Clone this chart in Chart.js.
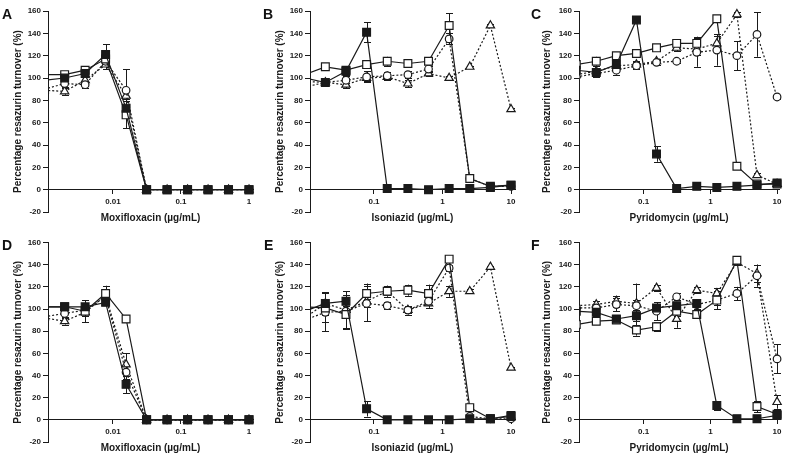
<!DOCTYPE html>
<html>
<head>
<meta charset="utf-8">
<script src="https://cdn.jsdelivr.net/npm/chart.js@4/dist/chart.umd.min.js"></script>
<style>
html, body { margin: 0; padding: 0; background: #fff; }
#wrap { position: relative; width: 786px; height: 454px; overflow: hidden; }
.panel { position: absolute; width: 262px; height: 227px; }
.panel canvas { display: block; }
.tag { position: absolute; font: bold 14px "Liberation Sans", Arial, sans-serif; line-height: 14px; color: #111; }
</style>
</head>
<body>
<div id="wrap"></div>
<script>
// concentrations (2-fold dilutions, first one falls just left of the axis)
var concMoxi = [0.000977, 0.00195, 0.0039, 0.0078, 0.0156, 0.03125, 0.0625, 0.125, 0.25, 0.5, 1];
var concInh = [0.00977, 0.0195, 0.039, 0.078, 0.156, 0.3125, 0.625, 1.25, 2.5, 5, 10];
var concPyr = [0.00977, 0.0195, 0.039, 0.078, 0.156, 0.3125, 0.625, 1.25, 2.5, 5, 10];

var ticksMoxi = [0.01, 0.1, 1];
var ticksDecade = [0.1, 1, 10];

var yTitle = 'Percentage resazurin turnover (%)';
var xTitles = ['Moxifloxacin (\u00b5g/mL)', 'Isoniazid (\u00b5g/mL)', 'Pyridomycin (\u00b5g/mL)'];
var panelLetters = ['A', 'B', 'C', 'D', 'E', 'F'];

// A - moxifloxacin
var aFilled = [98, 100, 104, 121, 73, 0, 0, 0, 0, 0, 0];
var aOpen = [103, 103, 107, 117, 67, 0, 0, 0, 0, 0, 0];
var aCircle = [90, 95, 94, 115, 89, 0, 0, 0, 0, 0, 0];
var aTri = [89, 88, 98, 112, 84, 0, 0, 0, 0, 0, 0];
var aFilledErr = [0, 3, 3, 9, 8, 0, 0, 0, 0, 0, 0];
var aOpenErr = [0, 3, 3, 4, 12, 0, 0, 0, 0, 0, 0];
var aCircleErr = [0, 3, 3, 4, 19, 0, 0, 0, 0, 0, 0];
var aTriErr = [0, 3, 3, 4, 5, 0, 0, 0, 0, 0, 0];

// B - isoniazid
var bFilled = [100, 96, 106, 141, 1, 1, 0, 1, 1, 2, 4];
var bOpen = [103, 110, 107, 112, 115, 113, 115, 147, 10, 3, 4];
var bCircle = [97, 96, 98, 101, 102, 103, 108, 135, 10, 3, 3];
var bTri = [92, 96, 94, 100, 101, 95, 104, 100, 110, 147, 72];
var bFilledErr = [0, 3, 3, 9, 0, 0, 0, 0, 0, 0, 0];
var bOpenErr = [0, 2, 2, 3, 4, 2, 2, 11, 3, 1, 1];
var bCircleErr = [0, 3, 4, 5, 3, 3, 3, 5, 3, 1, 1];
var bTriErr = [0, 3, 3, 3, 3, 3, 2, 2, 1, 1, 1];

// C - pyridomycin
var cFilled = [107, 105, 112, 152, 32, 1, 3, 2, 3, 4, 6];
var cOpen = [112, 115, 120, 122, 127, 131, 131, 153, 21, 5, 5];
var cCircle = [101, 104, 107, 111, 114, 115, 123, 125, 120, 139, 83];
var cTri = [103, 106, 111, 112, 115, 127, 126, 131, 157, 13, 5];
var cFilledErr = [0, 3, 3, 0, 7, 0, 0, 0, 0, 0, 1];
var cOpenErr = [0, 4, 3, 2, 2, 3, 6, 3, 2, 1, 1];
var cCircleErr = [0, 3, 4, 3, 2, 2, 13, 14, 13, 20, 2];
var cTriErr = [0, 3, 3, 3, 2, 3, 5, 7, 2, 2, 1];

// D - moxifloxacin
var dFilled = [102, 102, 102, 106, 32, 0, 0, 0, 0, 0, 0];
var dOpen = [102, 102, 98, 114, 91, 0, 0, 0, 0, 0, 0];
var dCircle = [93, 96, 99, 111, 43, 0, 0, 0, 0, 0, 0];
var dTri = [92, 89, 97, 112, 50, 0, 0, 0, 0, 0, 0];
var dFilledErr = [0, 2, 2, 2, 8, 0, 0, 0, 0, 0, 0];
var dOpenErr = [0, 2, 10, 7, 3, 0, 0, 0, 0, 0, 0];
var dCircleErr = [0, 3, 3, 4, 6, 0, 0, 0, 0, 0, 0];
var dTriErr = [0, 3, 3, 4, 10, 0, 0, 0, 0, 0, 0];

// E - isoniazid
var eFilled = [98, 105, 107, 10, 0, 0, 0, 0, 1, 1, 3];
var eOpen = [102, 101, 95, 114, 116, 117, 114, 145, 11, 1, 4];
var eCircle = [90, 97, 98, 105, 103, 99, 107, 137, 3, 1, 1];
var eTri = [92, 105, 99, 107, 116, 99, 105, 116, 116, 138, 47];
var eFilledErr = [0, 10, 9, 7, 0, 0, 0, 0, 0, 0, 0];
var eOpenErr = [0, 13, 13, 9, 5, 5, 8, 2, 2, 1, 1];
var eCircleErr = [0, 17, 15, 16, 3, 3, 3, 3, 1, 1, 1];
var eTriErr = [0, 4, 4, 5, 3, 4, 4, 5, 2, 1, 1];

// F - pyridomycin
var fFilled = [98, 97, 91, 94, 101, 103, 105, 13, 1, 1, 4];
var fOpen = [86, 89, 90, 81, 84, 98, 95, 108, 144, 12, 5];
var fCircle = [101, 101, 104, 103, 98, 111, 104, 108, 114, 130, 55];
var fTri = [103, 104, 107, 105, 119, 91, 117, 114, 142, 132, 16];
var fFilledErr = [0, 3, 2, 5, 3, 3, 3, 4, 1, 1, 1];
var fOpenErr = [0, 2, 2, 5, 4, 4, 2, 8, 2, 5, 1];
var fCircleErr = [0, 3, 6, 20, 8, 3, 4, 4, 6, 10, 13];
var fTriErr = [0, 3, 5, 3, 3, 8, 3, 5, 2, 8, 6];

var panelData = [
    { conc: concMoxi, ticks: ticksMoxi, title: xTitles[0], min: 0.00111, max: 1.145,
      series: [aFilled, aOpen, aCircle, aTri], errors: [aFilledErr, aOpenErr, aCircleErr, aTriErr] },
    { conc: concInh, ticks: ticksDecade, title: xTitles[1], min: 0.01164, max: 11.43,
      series: [bFilled, bOpen, bCircle, bTri], errors: [bFilledErr, bOpenErr, bCircleErr, bTriErr] },
    { conc: concPyr, ticks: ticksDecade, title: xTitles[2], min: 0.01074, max: 10.8,
      series: [cFilled, cOpen, cCircle, cTri], errors: [cFilledErr, cOpenErr, cCircleErr, cTriErr] },
    { conc: concMoxi, ticks: ticksMoxi, title: xTitles[0], min: 0.00111, max: 1.145,
      series: [dFilled, dOpen, dCircle, dTri], errors: [dFilledErr, dOpenErr, dCircleErr, dTriErr] },
    { conc: concInh, ticks: ticksDecade, title: xTitles[1], min: 0.01164, max: 11.43,
      series: [eFilled, eOpen, eCircle, eTri], errors: [eFilledErr, eOpenErr, eCircleErr, eTriErr] },
    { conc: concPyr, ticks: ticksDecade, title: xTitles[2], min: 0.01074, max: 10.8,
      series: [fFilled, fOpen, fCircle, fTri], errors: [fFilledErr, fOpenErr, fCircleErr, fTriErr] }
];

// where each panel sits on the page
var panelLayout = [
    { left: 0, top: 0, axisW: 48, padTop: 11, padRight: 9, titleBottom: 3, yTitlePad: 12, tagX: 2, tagY: 7 },
    { left: 262, top: 0, axisW: 48, padTop: 11, padRight: 9, titleBottom: 3, yTitlePad: 12, tagX: 263, tagY: 7 },
    { left: 524, top: 0, axisW: 55, padTop: 11, padRight: 4, titleBottom: 3, yTitlePad: 17, tagX: 531, tagY: 7 },
    { left: 0, top: 227, axisW: 48, padTop: 15.5, padRight: 9, titleBottom: 0, yTitlePad: 12, tagX: 2, tagY: 238 },
    { left: 262, top: 227, axisW: 48, padTop: 15.5, padRight: 9, titleBottom: 0, yTitlePad: 12, tagX: 264, tagY: 238 },
    { left: 524, top: 227, axisW: 55, padTop: 15.5, padRight: 4, titleBottom: 0, yTitlePad: 17, tagX: 531, tagY: 238 }
];

var ink = '#1a1a1a';
var fontFamily = '"Liberation Sans", Arial, sans-serif';
var seriesStyle = [
    { label: 'filled square', pointStyle: 'rect', pointRadius: 5.5, fill: ink, dash: [] },
    { label: 'open square', pointStyle: 'rect', pointRadius: 5.5, fill: '#fff', dash: [] },
    { label: 'open circle', pointStyle: 'circle', pointRadius: 3.8, fill: '#fff', dash: [2, 2] },
    { label: 'open triangle', pointStyle: 'triangle', pointRadius: 4.8, fill: '#fff', dash: [2, 2] }
];

var errorBars = {
    id: 'errorBars',
    beforeDatasetsDraw: function (chart) {
        var ctx = chart.ctx, xs = chart.scales.x, ys = chart.scales.y, area = chart.chartArea;
        ctx.save();
        ctx.beginPath();
        ctx.rect(area.left, area.top - 12, area.right - area.left + 12, area.bottom - area.top + 12);
        ctx.clip();
        ctx.strokeStyle = ink;
        ctx.lineWidth = 1;
        chart.data.datasets.forEach(function (ds) {
            (ds.errorBars || []).forEach(function (e, i) {
                if (!e) return;
                var p = ds.data[i];
                var px = Math.round(xs.getPixelForValue(p.x)) + 0.5;
                var hi = ys.getPixelForValue(p.y + e), lo = ys.getPixelForValue(p.y - e);
                ctx.beginPath();
                ctx.moveTo(px, hi); ctx.lineTo(px, lo);
                ctx.moveTo(px - 3.5, Math.round(hi) + 0.5); ctx.lineTo(px + 3.5, Math.round(hi) + 0.5);
                ctx.moveTo(px - 3.5, Math.round(lo) + 0.5); ctx.lineTo(px + 3.5, Math.round(lo) + 0.5);
                ctx.stroke();
            });
        });
        ctx.restore();
    }
};

var wrap = document.getElementById('wrap');

panelData.forEach(function (pd, n) {
    var lay = panelLayout[n];
    var box = document.createElement('div');
    box.className = 'panel';
    box.style.left = lay.left + 'px';
    box.style.top = lay.top + 'px';
    var canvas = document.createElement('canvas');
    canvas.width = 262;
    canvas.height = 227;
    box.appendChild(canvas);
    wrap.appendChild(box);

    var tag = document.createElement('div');
    tag.className = 'tag';
    tag.style.left = lay.tagX + 'px';
    tag.style.top = lay.tagY + 'px';
    tag.textContent = panelLetters[n];
    wrap.appendChild(tag);

    var datasets = pd.series.map(function (vals, k) {
        var st = seriesStyle[k];
        return {
            label: st.label,
            data: vals.map(function (v, i) { return { x: pd.conc[i], y: v }; }),
            errorBars: pd.errors[k],
            borderColor: ink,
            borderWidth: 1.2,
            borderDash: st.dash,
            pointStyle: st.pointStyle,
            pointRadius: st.pointRadius,
            pointBackgroundColor: st.fill,
            pointBorderColor: ink,
            pointBorderWidth: 1.2,
            tension: 0,
            fill: false,
            clip: { left: 0, top: 8, right: 8, bottom: 8 }
        };
    });

    var tickFont = { family: fontFamily, size: 8, weight: 'bold' };
    var titleFont = { family: fontFamily, size: 10, weight: 'bold' };

    new Chart(canvas.getContext('2d'), {
        type: 'line',
        data: { datasets: datasets },
        options: {
            responsive: false,
            animation: false,
            devicePixelRatio: 1,
            layout: { padding: { top: lay.padTop, right: lay.padRight, bottom: 0, left: 0 } },
            plugins: { legend: { display: false }, tooltip: { enabled: false } },
            scales: {
                x: {
                    type: 'logarithmic',
                    min: pd.min,
                    max: pd.max,
                    position: { y: 0 },
                    afterFit: function (s) { s.height = 0; },
                    afterBuildTicks: function (s) { s.ticks = pd.ticks.map(function (v) { return { value: v }; }); },
                    ticks: { callback: function (v) { return String(v); }, font: tickFont, color: ink, padding: 3, maxRotation: 0, autoSkip: false },
                    grid: { drawOnChartArea: false, tickLength: 4, color: ink },
                    border: { color: ink, width: 1 }
                },
                x2: {
                    type: 'linear',
                    position: 'bottom',
                    min: 0,
                    max: 1,
                    ticks: { display: false },
                    grid: { display: false, drawTicks: false },
                    border: { display: false },
                    title: { display: true, text: pd.title, font: titleFont, color: ink, padding: { top: 0, bottom: lay.titleBottom } }
                },
                y: {
                    min: -20,
                    max: 160,
                    position: 'left',
                    afterFit: function (s) { s.width = lay.axisW; },
                    ticks: { stepSize: 20, font: tickFont, color: ink, padding: 2 },
                    grid: { drawOnChartArea: false, tickLength: 5, color: ink },
                    border: { color: ink, width: 1 },
                    title: { display: true, text: yTitle, font: titleFont, color: ink, padding: { top: lay.yTitlePad, bottom: 0 } }
                }
            }
        },
        plugins: [errorBars]
    });
});
</script>
</body>
</html>
